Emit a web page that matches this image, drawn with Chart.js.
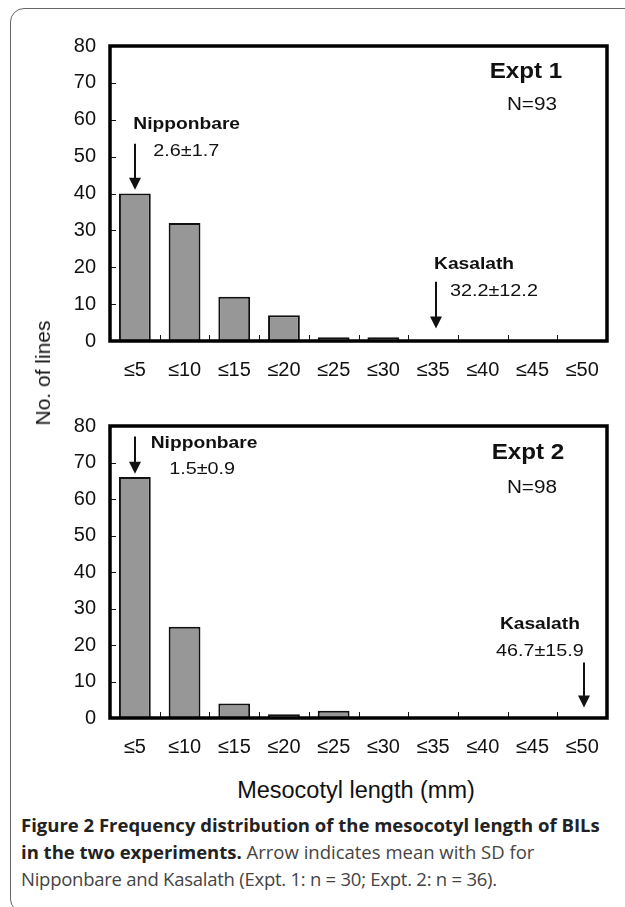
<!DOCTYPE html>
<html>
<head>
<meta charset="utf-8">
<script src="https://cdn.jsdelivr.net/npm/chart.js@4.4.1/dist/chart.umd.min.js"></script>
<style>
  html, body { margin: 0; padding: 0; background: #fff; }
  body { width: 625px; height: 907px; position: relative; overflow: hidden; }
  .frame { position: absolute; left: 10px; top: 8px; width: 660px; height: 905px;
           border: 1.3px solid #666; border-radius: 14px; box-sizing: border-box; }
  .box { position: absolute; left: 0; width: 625px; height: 370px; }
  #c1box { top: 20px; }
  #c2box { top: 400px; }
  .ytitle { position: absolute; left: 43px; top: 373px; transform: translate(-50%, -50%) rotate(-90deg);
            font: 21px "Liberation Sans", Arial, sans-serif; color: #111; white-space: nowrap; }
  .xtitle { position: absolute; left: 356px; top: 790px; transform: translate(-50%, -50%);
            font: 23.5px "Liberation Sans", Arial, sans-serif; color: #111; white-space: nowrap; }
  .caption { position: absolute; left: 21px; top: 811px; width: 610px;
             font-family: "Open Sans", "Noto Sans", sans-serif; font-size: 18.5px; line-height: 27px; color: #444; white-space: nowrap; }
  .caption b { color: #222; font-weight: 700; }
  .caption span { letter-spacing: -0.25px; }
</style>
</head>
<body>
<div class="frame"></div>
<div class="box" id="c1box"><canvas id="c1"></canvas></div>
<div class="box" id="c2box"><canvas id="c2"></canvas></div>
<div class="ytitle">No. of lines</div>
<div class="xtitle">Mesocotyl length (mm)</div>
<div class="caption"><b>Figure 2 Frequency distribution of the mesocotyl length of BILs<br>in the two experiments.</b> Arrow indicates mean with SD for<br><span>Nipponbare and Kasalath (Expt. 1: n = 30; Expt. 2: n = 36).</span></div>
<script>
// ---- data ----
const categories = ['≤5', '≤10', '≤15', '≤20', '≤25', '≤30', '≤35', '≤40', '≤45', '≤50'];
const expt1Counts = [40, 32, 12, 7, 1, 1, 0, 0, 0, 0];
const expt2Counts = [66, 25, 4, 1, 2, 0, 0, 0, 0, 0];
const yTicks = [0, 10, 20, 30, 40, 50, 60, 70, 80];
const expt1Labels = ['Expt 1', 'N=93'];
const expt2Labels = ['Expt 2', 'N=98'];
const parentNames = ['Nipponbare', 'Kasalath'];
const expt1ParentStats = ['2.6±1.7', '32.2±12.2'];
const expt2ParentStats = ['1.5±0.9', '46.7±15.9'];

// ---- annotation placement (category index / value units) ----
const layout1 = {
  title: { x: 7.87, y: 73.0 }, n: { x: 7.99, y: 63.9 },
  parents: [
    { nameX: -0.03, nameY: 58.7, statX: 0.37, statY: 51.4, align: 'left', arrowX: 0.01, from: 53.5, to: 41.0 },
    { nameX: 6.02, nameY: 20.8, statX: 6.34, statY: 13.5, align: 'left', arrowX: 6.05, from: 16.1, to: 3.4 }
  ]
};
const layout2 = {
  title: { x: 7.91, y: 72.7 }, n: { x: 7.99, y: 63.0 },
  parents: [
    { nameX: 0.32, nameY: 75.3, statX: 0.69, statY: 68.1, align: 'left', arrowX: 0.01, from: 77.1, to: 66.9 },
    { nameX: 8.15, nameY: 25.6, statX: 8.15, statY: 18.3, align: 'center', arrowX: 9.04, from: 15.2, to: 2.9 }
  ]
};

const FONT = '"Liberation Sans", Arial, sans-serif';
const INK = '#111';

function txt(ctx, s, x, y, font, align, sx) {
  ctx.save();
  ctx.translate(x, y);
  ctx.scale(sx, 1);
  ctx.font = font;
  ctx.fillStyle = INK;
  ctx.textAlign = align;
  ctx.textBaseline = 'middle';
  ctx.fillText(s, 0, 0);
  ctx.restore();
}

function arrow(ctx, x, y1, y2) {
  ctx.save();
  ctx.strokeStyle = INK; ctx.fillStyle = INK; ctx.lineWidth = 2;
  ctx.beginPath(); ctx.moveTo(x, y1); ctx.lineTo(x, y2 - 11); ctx.stroke();
  ctx.beginPath(); ctx.moveTo(x - 6, y2 - 12); ctx.lineTo(x + 6, y2 - 12); ctx.lineTo(x, y2); ctx.closePath(); ctx.fill();
  ctx.restore();
}

const decorPlugin = {
  id: 'decor',
  afterDatasetsDraw(chart, args, opts) {
    const ctx = chart.ctx;
    const a = chart.chartArea;
    const xs = chart.scales.x, ys = chart.scales.y;
    ctx.save();
    // inward tick marks
    ctx.strokeStyle = INK; ctx.lineWidth = 1;
    yTicks.forEach(v => {
      if (v === 0 || v === 80) return;
      const py = Math.round(ys.getPixelForValue(v)) + 0.5;
      ctx.beginPath(); ctx.moveTo(a.left, py); ctx.lineTo(a.left + 6, py); ctx.stroke();
    });
    for (let i = 0; i < categories.length - 1; i++) {
      const px = Math.round(xs.getPixelForValue(i + 0.5)) + 0.5;
      ctx.beginPath(); ctx.moveTo(px, a.bottom); ctx.lineTo(px, a.bottom - 6); ctx.stroke();
    }
    // frame
    ctx.lineWidth = 3.5;
    ctx.strokeStyle = '#000';
    ctx.strokeRect(a.left, a.top, a.right - a.left, a.bottom - a.top);
    ctx.restore();

    const L = opts.layout;
    txt(ctx, opts.labels[0], xs.getPixelForValue(L.title.x), ys.getPixelForValue(L.title.y), 'bold 22px ' + FONT, 'center', 1.1);
    txt(ctx, opts.labels[1], xs.getPixelForValue(L.n.x), ys.getPixelForValue(L.n.y), '18px ' + FONT, 'center', 1.15);
    L.parents.forEach((p, i) => {
      txt(ctx, parentNames[i], xs.getPixelForValue(p.nameX), ys.getPixelForValue(p.nameY), 'bold 16px ' + FONT, p.align, 1.2);
      txt(ctx, opts.stats[i], xs.getPixelForValue(p.statX), ys.getPixelForValue(p.statY), '16.5px ' + FONT, p.align, 1.2);
      arrow(ctx, Math.round(xs.getPixelForValue(p.arrowX)), ys.getPixelForValue(p.from), ys.getPixelForValue(p.to));
    });
  }
};

function makeChart(id, counts, labels, stats, layout, pad, xHeight) {
  return new Chart(document.getElementById(id), {
    type: 'bar',
    data: {
      labels: categories,
      datasets: [{
        data: counts,
        backgroundColor: '#979797',
        borderColor: '#111',
        borderWidth: 2,
        borderSkipped: 'bottom',
        categoryPercentage: 1.0,
        barPercentage: 0.64
      }]
    },
    options: {
      responsive: true,
      maintainAspectRatio: false,
      animation: false,
      devicePixelRatio: 1,
      layout: { padding: pad },
      plugins: {
        legend: { display: false },
        tooltip: { enabled: false },
        decor: { layout: layout, labels: labels, stats: stats }
      },
      scales: {
        x: {
          grid: { display: false, drawTicks: false },
          border: { display: false },
          ticks: { color: INK, font: { family: FONT, size: 20 }, padding: 17, maxRotation: 0, autoSkip: false },
          afterFit(s) { s.height = xHeight; }
        },
        y: {
          min: 0, max: 80,
          grid: { display: false, drawTicks: false },
          border: { display: false },
          afterBuildTicks(s) { s.ticks = yTicks.map(v => ({ value: v })); },
          ticks: { color: INK, font: { family: FONT, size: 20 }, padding: 14 },
          afterFit(s) { s.width = 110; }
        }
      }
    },
    plugins: [decorPlugin]
  });
}

makeChart('c1', expt1Counts, expt1Labels, expt1ParentStats, layout1, { top: 13, right: 18, left: 0, bottom: 0 }, 49);
makeChart('c2', expt2Counts, expt2Labels, expt2ParentStats, layout2, { top: 12, right: 18, left: 0, bottom: 0 }, 52);
</script>
</body>
</html>
